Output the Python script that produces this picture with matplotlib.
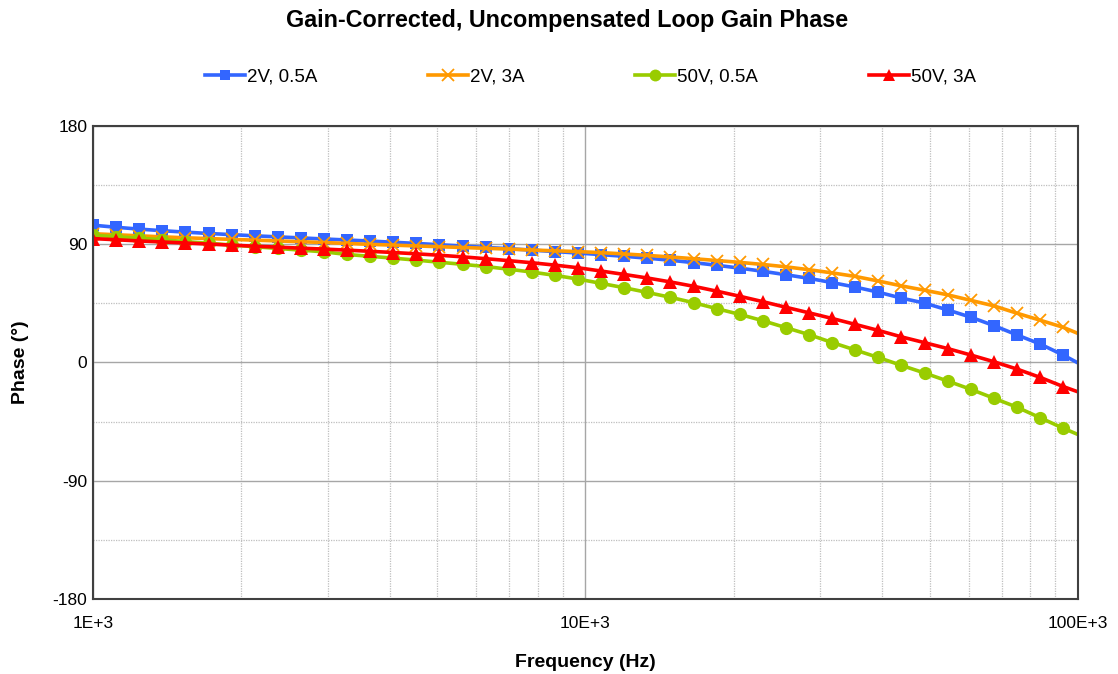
import matplotlib
matplotlib.use("Agg")
import matplotlib.pyplot as plt
from matplotlib.ticker import FixedLocator, NullFormatter

plt.rcParams['font.family'] = ['Liberation Sans', 'DejaVu Sans']
plt.rcParams['axes.unicode_minus'] = False

# Sweep frequencies (Hz)
freq = [1000, 1114, 1241, 1383, 1540, 1716, 1911, 2129, 2372, 2643,
        2944, 3280, 3654, 4070, 4535, 5052, 5628, 6270, 6985, 7781,
        8669, 9657, 10758, 11985, 13352, 14875, 16571, 18461, 20566, 22911,
        25524, 28435, 31678, 35290, 39315, 43799, 48794, 54358, 60558, 67464,
        75158, 83729, 93278, 103916]

# Phase (deg) for each operating point
phase_2v_05a = [104.5, 102.9, 101.5, 100.3, 99.2, 98.2, 97.3, 96.4, 95.6, 94.8,
                94.0, 93.2, 92.4, 91.5, 90.6, 89.6, 88.6, 87.6, 86.6, 85.5,
                84.4, 83.3, 82.1, 80.8, 79.4, 77.8, 76.0, 74.0, 71.8, 69.4,
                66.8, 64.0, 60.8, 57.4, 53.5, 49.0, 45.2, 40.0, 34.5, 28.1,
                21.0, 14.1, 5.7, -3.7]
phase_2v_3a = [98.0, 97.2, 96.4, 95.6, 94.9, 94.3, 93.7, 93.1, 92.5, 91.9,
               91.3, 90.6, 89.9, 89.3, 88.7, 88.1, 87.5, 86.9, 86.3, 85.6,
               85.0, 84.4, 83.6, 82.6, 81.5, 80.3, 79.0, 77.6, 76.2, 74.6,
               72.8, 70.6, 68.2, 65.5, 62.0, 58.3, 55.0, 51.5, 47.3, 43.1,
               37.5, 32.2, 26.8, 19.5]
phase_50v_05a = [96.8, 95.7, 94.6, 93.4, 92.0, 90.7, 89.4, 88.1, 86.8, 85.5,
                 84.2, 82.2, 80.8, 79.4, 77.9, 76.3, 74.7, 73.0, 71.0, 68.8,
                 66.3, 63.5, 60.2, 56.9, 53.3, 49.6, 45.5, 41.0, 36.6, 31.8,
                 26.5, 21.2, 15.2, 9.5, 3.8, -2.2, -8.0, -14.1, -20.4, -27.2,
                 -34.0, -42.0, -50.0, -57.5]
phase_50v_3a = [94.3, 93.4, 92.5, 91.7, 90.9, 90.1, 89.3, 88.5, 87.8, 87.0,
                86.3, 85.5, 84.6, 83.7, 82.7, 81.6, 80.4, 79.0, 77.5, 75.9,
                74.1, 72.1, 69.6, 67.0, 64.3, 61.3, 58.0, 54.3, 50.4, 46.3,
                42.0, 37.8, 33.5, 29.0, 24.4, 19.5, 15.1, 10.6, 5.7, 0.6,
                -5.0, -11.3, -18.3, -24.6]

series_labels = ["2V, 0.5A", "2V, 3A", "50V, 0.5A", "50V, 3A"]
x_ticks = [1e3, 1e4, 1e5]
x_tick_labels = ["1E+3", "10E+3", "100E+3"]
y_ticks = [-180, -90, 0, 90, 180]

fig = plt.figure(figsize=(11.18, 6.74), dpi=100)
ax = fig.add_axes([0.0832, 0.1113, 0.8810, 0.7018])

styles = [
    dict(color="#3366FF", marker="s", markersize=8.5, mew=0),
    dict(color="#FF9900", marker="x", markersize=9, mew=1.3),
    dict(color="#99CC00", marker="o", markersize=9.5, mew=0),
    dict(color="#FF0000", marker="^", markersize=9.5, mew=0),
]
for ys, lab, st in zip([phase_2v_05a, phase_2v_3a, phase_50v_05a, phase_50v_3a],
                       series_labels, styles):
    ax.plot(freq, ys, lw=2.6, label=lab, clip_on=True, **st)

ax.set_xscale("log")
ax.set_xlim(1e3, 1e5)
ax.set_ylim(-180, 180)

ax.xaxis.set_major_locator(FixedLocator(x_ticks))
ax.set_xticklabels(x_tick_labels)
minor_x = [m * 10 ** k for k in (3, 4) for m in range(2, 10)]
ax.xaxis.set_minor_locator(FixedLocator(minor_x))
ax.xaxis.set_minor_formatter(NullFormatter())
ax.yaxis.set_major_locator(FixedLocator(y_ticks))
ax.yaxis.set_minor_locator(FixedLocator([-135, -45, 45, 135]))

ax.grid(which="major", color="#A6A6A6", lw=1.0, ls="-")
ax.grid(which="minor", color="#BFBFBF", lw=0.9, ls=(0, (1, 1)))
ax.set_axisbelow(True)

ax.tick_params(which="both", length=0, labelsize=12.5, colors="black")
ax.tick_params(axis="x", pad=12)
ax.tick_params(axis="y", pad=4)

for sp in ax.spines.values():
    sp.set_color("#404040")
    sp.set_linewidth(1.5)

ax.set_xlabel("Frequency (Hz)", fontsize=14, fontweight="bold", labelpad=17)
ax.set_ylabel("Phase (°)", fontsize=14, fontweight="bold", labelpad=17)

fig.text(0.507, 0.970, "Gain-Corrected, Uncompensated Loop Gain Phase",
         ha="center", va="center", fontsize=16.8, fontweight="bold")

fig.legend(loc="center", bbox_to_anchor=(0.528, 0.886), ncol=4, frameon=False,
           fontsize=13.5, handlelength=2.15, handletextpad=0.1, columnspacing=5.9,
           markerscale=0.9)

fig.savefig("out.png", dpi=100)
